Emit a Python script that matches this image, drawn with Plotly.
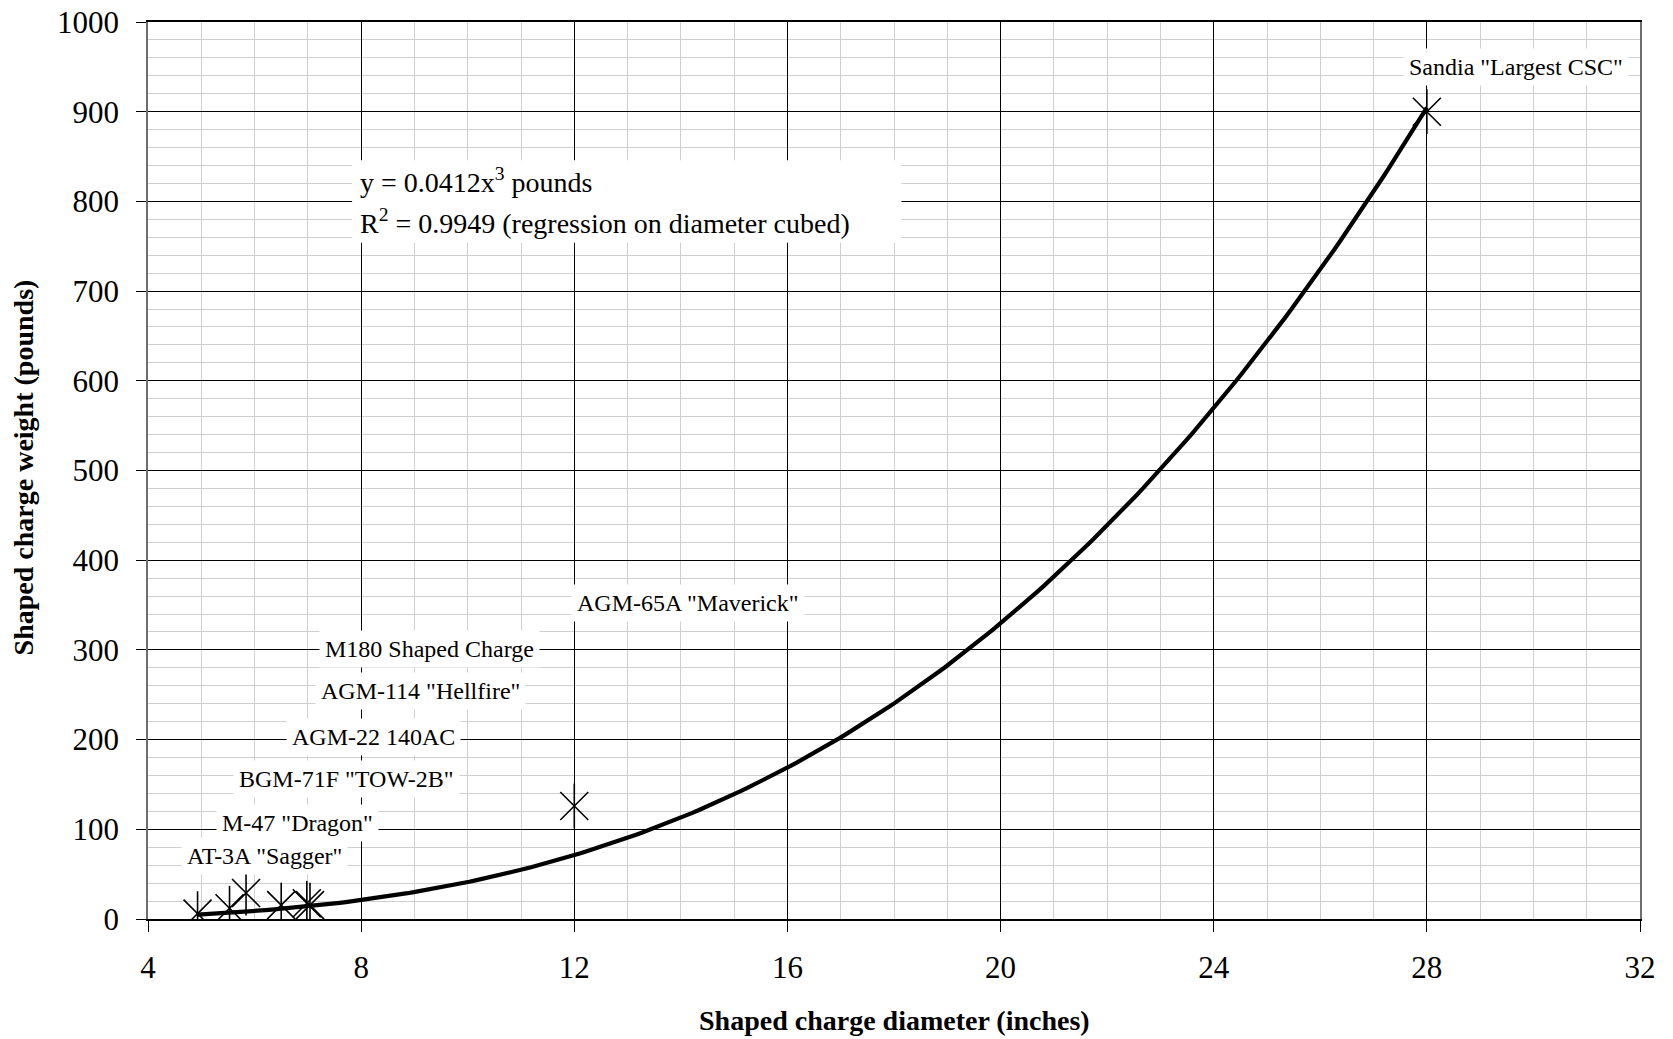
import numpy as np
import plotly.graph_objects as go

# ---- data ----
names = ['AT-3A "Sagger"', 'M-47 "Dragon"', 'BGM-71F "TOW-2B"', 'AGM-22 140AC',
         'AGM-114 "Hellfire"', 'M180 Shaped Charge', 'AGM-65A "Maverick"', 'Sandia "Largest CSC"']
diameter_in = [4.93, 5.53, 5.84, 6.5, 6.98, 7.04, 12.0, 28.0]
weight_lb = [6.0, 12.0, 29.0, 15.5, 17.5, 15.5, 126.0, 900.0]

fit_coef = 0.0412          # y = 0.0412 x^3 (stated trendline)
fit_r2 = 0.9949
fit_x_range = [4.93, 28.0]

x_ticks = [4, 8, 12, 16, 20, 24, 28, 32]
y_ticks = [0, 100, 200, 300, 400, 500, 600, 700, 800, 900, 1000]

# label anchor positions (data coordinates)
label_x = [6.18, 6.8, 7.73, 8.23, 9.12, 9.29, 14.14, 29.68]
label_y = [70, 107, 156, 203, 254, 301, 352, 950]

FONT = "Liberation Serif"

fx = np.linspace(fit_x_range[0], fit_x_range[1], 200)
fy = fit_coef * fx ** 3

fig = go.Figure()
fig.add_trace(go.Scatter(x=fx, y=fy, mode="lines", name="fit",
                         line=dict(color="black", width=4.2), hoverinfo="skip"))
fig.add_trace(go.Scatter(x=diameter_in, y=weight_lb, mode="markers", text=names, name="charges",
                         marker=dict(symbol="x-thin-open", size=28, color="black",
                                     line=dict(color="black", width=1.6))))
fig.add_trace(go.Scatter(x=diameter_in, y=weight_lb, mode="markers", hoverinfo="skip", name="charges2",
                         marker=dict(symbol="line-ns-open", size=32, color="black",
                                     line=dict(color="black", width=1.6))))

for n, lx, ly in zip(names, label_x, label_y):
    fig.add_annotation(x=lx, y=ly, xref="x", yref="y", text=n, showarrow=False,
                       font=dict(family=FONT, size=24, color="black"),
                       bgcolor="white", borderpad=5)

# equation box (white background) + two text lines
fig.add_shape(type="rect", xref="x", yref="y", x0=7.83, x1=18.14, y0=754, y1=846,
              fillcolor="white", line=dict(width=0), layer="above")
fig.add_annotation(x=7.94, y=823, xref="x", yref="y", xanchor="left", yanchor="middle",
                   showarrow=False, text=f"y = {fit_coef}x<sup>3</sup> pounds",
                   font=dict(family=FONT, size=28, color="black"))
fig.add_annotation(x=7.94, y=778, xref="x", yref="y", xanchor="left", yanchor="middle",
                   showarrow=False,
                   text=f"R<sup>2</sup> = {fit_r2} (regression on diameter cubed)",
                   font=dict(family=FONT, size=28, color="black"))

# axis titles
fig.add_annotation(x=0.5, y=-0.1137, xref="paper", yref="paper", showarrow=False,
                   xanchor="center", yanchor="middle",
                   text="<b>Shaped charge diameter (inches)</b>",
                   font=dict(family=FONT, size=28, color="black"))
fig.add_annotation(x=-0.0834, y=0.503, xref="paper", yref="paper", showarrow=False,
                   xanchor="center", yanchor="middle",
                   text="<b>Shaped charge weight (pounds)</b>", textangle=-90,
                   font=dict(family=FONT, size=28, color="black"))

fig.update_layout(
    width=1673, height=1039,
    margin=dict(l=148, r=33, t=22, b=120),
    plot_bgcolor="white", paper_bgcolor="white",
    showlegend=False,
    font=dict(family=FONT, color="black"),
)
fig.update_xaxes(
    range=[4, 32], tickvals=x_ticks, ticktext=[str(v) for v in x_ticks],
    automargin=False,
    showgrid=True, gridcolor="black", gridwidth=1,
    minor=dict(dtick=1, tick0=4, showgrid=True, gridcolor="#cfcfcf", gridwidth=1),
    showline=True, linecolor="black", linewidth=1.5, mirror=True,
    ticks="outside", ticklen=11, tickcolor="black", ticklabelstandoff=9,
    tickfont=dict(family=FONT, size=31, color="black"),
    zeroline=False,
)
fig.update_yaxes(
    range=[0, 1000], tickvals=y_ticks, ticktext=[str(v) for v in y_ticks],
    automargin=False,
    showgrid=True, gridcolor="black", gridwidth=1,
    minor=dict(dtick=20, tick0=0, showgrid=True, gridcolor="#cfcfcf", gridwidth=1),
    showline=True, linecolor="#6e6e6e", linewidth=1.5, mirror=True,
    ticks="outside", ticklen=10, tickcolor="black", ticklabelstandoff=11,
    tickfont=dict(family=FONT, size=31, color="black"),
    zeroline=False,
)

fig.write_html("out.html", config={"displayModeBar": False},
               post_script="document.body.style.margin='0';document.body.style.overflow='hidden';")
